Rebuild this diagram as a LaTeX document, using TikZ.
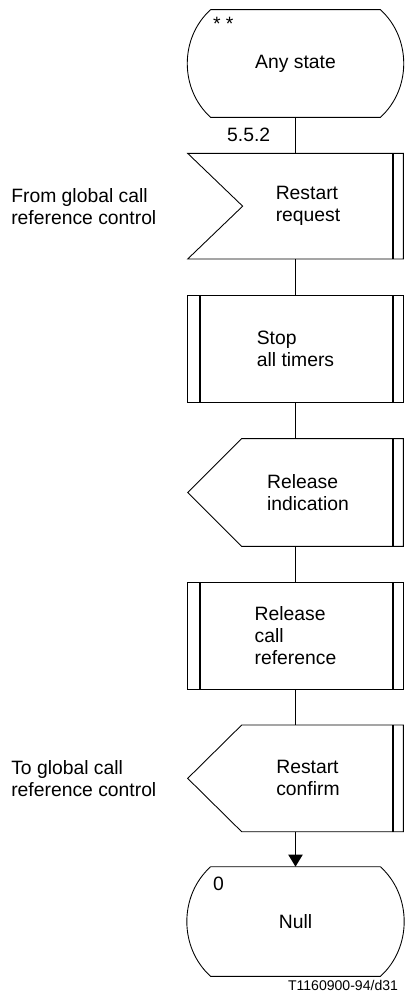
\documentclass[tikz,border=0pt]{standalone}
\usepackage{fontspec}
\setmainfont{Liberation Sans}
\usetikzlibrary{positioning, arrows.meta}

\tikzset{
  txt/.style={font=\fontsize{11}{12.5}\selectfont, align=left, inner sep=0pt},
  sym/.style={txt, minimum width=4.3cm},
  iosym/.style={txt, minimum width=3.8cm},
  outline/.style={line width=0.5pt},
  bar/.style={line width=1.1pt},
  flow/.style={line width=1.1pt},
}

\begin{document}
\begin{tikzpicture}[x=0.02cm, y=-0.02cm]
    \useasboundingbox (0,0) rectangle (407,1000);

    % =================================================================
    % THE COLUMN OF SYMBOLS
    % =================================================================
    \node[sym, minimum height=2.14cm] (any) at (295.5,63.5) {Any state};
    \node[iosym, minimum height=2.1cm, below=0.72cm of any, xshift=0.25cm] (req) {Restart\\request};
    \node[sym, minimum height=2.14cm, below=0.72cm of req, xshift=-0.25cm] (stop) {Stop\\all timers};
    \node[iosym, minimum height=2.14cm, below=0.72cm of stop, xshift=0.25cm] (relind) {Release\\indication};
    \node[sym, minimum height=2.12cm, below=0.72cm of relind, xshift=-0.25cm] (relcr) {Release\\call\\reference};
    \node[iosym, minimum height=2.12cm, below=0.72cm of relcr, xshift=0.25cm] (rconf) {Restart\\confirm};
    \node[sym, minimum height=2.18cm, below=0.7cm of rconf, xshift=-0.25cm] (null) {Null};

    % State symbols: flat top and bottom, bulging sides
    \draw[outline] ([xshift=0.46cm]any.north west) -- ([xshift=-0.46cm]any.north east)
        to[bend left=48] ([xshift=-0.46cm]any.south east) -- ([xshift=0.46cm]any.south west)
        to[bend left=48] ([xshift=0.46cm]any.north west);
    \draw[outline] ([xshift=0.46cm]null.north west) -- ([xshift=-0.46cm]null.north east)
        to[bend left=48] ([xshift=-0.46cm]null.south east) -- ([xshift=0.46cm]null.south west)
        to[bend left=48] ([xshift=0.46cm]null.north west);

    % Input symbol: notch on the left
    \draw[outline] ([xshift=-0.5cm]req.north west) -- (req.north east) -- (req.south east)
        -- ([xshift=-0.5cm]req.south west) -- ([xshift=0.6cm]req.west) -- cycle;
    \draw[bar] ([xshift=-0.2cm]req.north east) -- ([xshift=-0.2cm]req.south east);

    % Task symbols: double bars on both sides
    \draw[outline] (stop.north west) rectangle (stop.south east);
    \draw[bar] ([xshift=0.24cm]stop.north west) -- ([xshift=0.24cm]stop.south west);
    \draw[bar] ([xshift=-0.2cm]stop.north east) -- ([xshift=-0.2cm]stop.south east);
    \draw[outline] (relcr.north west) rectangle (relcr.south east);
    \draw[bar] ([xshift=0.24cm]relcr.north west) -- ([xshift=0.24cm]relcr.south west);
    \draw[bar] ([xshift=-0.2cm]relcr.north east) -- ([xshift=-0.2cm]relcr.south east);

    % Output symbols: point on the left
    \draw[outline] ([xshift=0.58cm]relind.north west) -- (relind.north east) -- (relind.south east)
        -- ([xshift=0.58cm]relind.south west) -- ([xshift=-0.5cm]relind.west) -- cycle;
    \draw[bar] ([xshift=-0.2cm]relind.north east) -- ([xshift=-0.2cm]relind.south east);
    \draw[outline] ([xshift=0.58cm]rconf.north west) -- (rconf.north east) -- (rconf.south east)
        -- ([xshift=0.58cm]rconf.south west) -- ([xshift=-0.5cm]rconf.west) -- cycle;
    \draw[bar] ([xshift=-0.2cm]rconf.north east) -- ([xshift=-0.2cm]rconf.south east);

    % =================================================================
    % SMALL LABELS
    % =================================================================
    \node[txt, anchor=north west] (anymark) at ([xshift=0.5cm, yshift=-0.14cm]any.north west) {* *};
    \node[txt, anchor=east] (sec) at ([xshift=-0.5cm, yshift=-0.36cm]any.south) {5.5.2};
    \node[txt, anchor=north west] (nullnum) at ([xshift=0.5cm, yshift=-0.2cm]null.north west) {0};
    \node[txt, left=1.12cm of req.west] (src) {From global call\\reference control};
    \node[txt, left=1.12cm of rconf.west] (dst) {To global call\\reference control};
    \node[txt, font=\fontsize{8}{9}\selectfont, anchor=north east] (figid)
        at ([xshift=-0.1cm, yshift=-0.08cm]null.south east) {T1160900-94/d31};

    % =================================================================
    % FLOW LINES
    % =================================================================
    \draw[flow] (any.south) -- (any.south |- req.north);
    \draw[flow] (stop.north |- req.south) -- (stop.north);
    \draw[flow] (stop.south) -- (stop.south |- relind.north);
    \draw[flow] (relcr.north |- relind.south) -- (relcr.north);
    \draw[flow] (relcr.south) -- (relcr.south |- rconf.north);
    \draw[flow, -{Triangle[width=0.28cm, length=0.24cm]}] (null.north |- rconf.south) -- (null.north);

\end{tikzpicture}
\end{document}
